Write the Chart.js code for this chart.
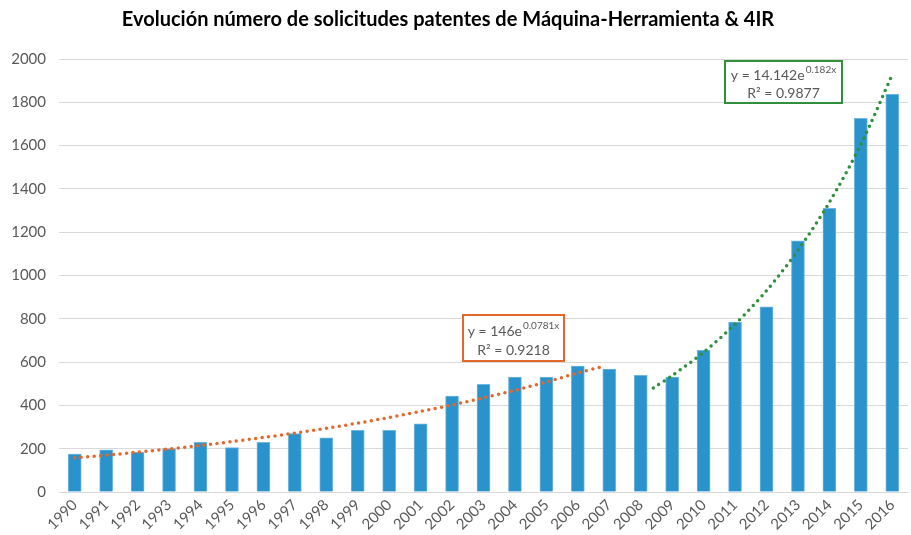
<!DOCTYPE html>
<html>
<head>
<meta charset="utf-8">
<script src="https://cdn.jsdelivr.net/npm/chart.js@4"></script>
<style>
  html, body { margin: 0; padding: 0; background: #fff; }
  #wrap { width: 911px; height: 535px; position: relative; }
</style>
</head>
<body>
<div id="wrap"><canvas id="patChart"></canvas></div>
<script>
const years = [1990, 1991, 1992, 1993, 1994, 1995, 1996, 1997, 1998, 1999, 2000, 2001, 2002, 2003,
  2004, 2005, 2006, 2007, 2008, 2009, 2010, 2011, 2012, 2013, 2014, 2015, 2016];
const solicitudes = [175, 195, 183, 200, 230, 205, 230, 270, 250, 285, 285, 315, 443, 497,
  531, 531, 582, 568, 539, 531, 654, 785, 855, 1160, 1310, 1726, 1837];

// trend lines (x = year position, y = value)
const trendOrangeX = [1990, 1991, 1992, 1993, 1994, 1995, 1996, 1997, 1998, 1999, 2000, 2001, 2002, 2003, 2004, 2005, 2006, 2006.75];
const trendOrangeY = [158, 170, 184, 199, 215, 233, 252, 272, 294, 318, 344, 372, 402, 435, 470, 508, 550, 578];
const trendGreenX = [2008.4, 2009, 2010, 2011, 2012, 2013, 2014, 2015, 2016];
const trendGreenY = [480, 538, 645, 775, 930, 1116, 1338, 1605, 1928];

const yTicks = [0, 200, 400, 600, 800, 1000, 1200, 1400, 1600, 1800, 2000];

const FONT = 'Lato, "Open Sans", sans-serif';
const GREY = '#595959';

function pts(xs, ys) {
    return xs.map((x, i) => ({ x: x, y: ys[i] }));
}

// title + the two equation boxes
const overlay = {
    id: 'overlay',
    afterDraw(chart) {
        const c = chart.ctx;
        c.save();
        c.fillStyle = '#000';
        c.font = 'bold 20px ' + FONT;
        c.textAlign = 'center';
        c.textBaseline = 'alphabetic';
        c.fillText('Evolución número de solicitudes patentes de Máquina-Herramienta & 4IR', 448, 26);

        function eqBox(x, y, w, h, color, base, exp, r2, l1, l2) {
            c.fillStyle = '#fff';
            c.fillRect(x, y, w, h);
            c.strokeStyle = color;
            c.lineWidth = 2;
            c.strokeRect(x, y, w, h);
            c.fillStyle = GREY;
            c.textAlign = 'left';
            c.font = '14px ' + FONT;
            const bw = c.measureText(base).width;
            c.font = '10px ' + FONT;
            const ew = c.measureText(exp).width;
            const sx = x + (w - bw - ew - 1) / 2;
            c.font = '14px ' + FONT;
            c.fillText(base, sx, y + l1);
            c.font = '10px ' + FONT;
            c.fillText(exp, sx + bw + 1, y + l1 - 7);
            c.font = '14px ' + FONT;
            c.textAlign = 'center';
            c.fillText(r2, x + w / 2, y + l2);
        }
        eqBox(463, 315, 101, 46, '#E4672B', 'y = 146e', '0.0781x', 'R² = 0.9218', 21, 40);
        eqBox(725, 61, 117, 42, '#2F8F3A', 'y = 14.142e', '0.182x', 'R² = 0.9877', 19, 37);
        c.restore();
    }
};

new Chart(document.getElementById('patChart'), {
    data: {
        datasets: [
            {
                type: 'bar',
                data: pts(years, solicitudes),
                backgroundColor: '#2B93CC',
                borderColor: '#6FB6E0',
                borderWidth: 1,
                barThickness: 13,
                order: 2
            },
            {
                type: 'line',
                data: pts(trendOrangeX, trendOrangeY),
                borderColor: '#E4672B',
                borderWidth: 3.5,
                borderDash: [0, 6.5],
                borderCapStyle: 'round',
                pointRadius: 0,
                tension: 0.3,
                fill: false,
                order: 0
            },
            {
                type: 'line',
                data: pts(trendGreenX, trendGreenY),
                borderColor: '#2F8F3A',
                borderWidth: 3.5,
                borderDash: [0, 6.5],
                borderCapStyle: 'round',
                pointRadius: 0,
                tension: 0.3,
                fill: false,
                order: 0
            }
        ]
    },
    options: {
        responsive: true,
        maintainAspectRatio: false,
        animation: false,
        layout: { padding: { top: 59, right: 3, left: 0, bottom: 0 } },
        plugins: {
            legend: { display: false },
            tooltip: { enabled: false },
            title: { display: false }
        },
        scales: {
            x: {
                type: 'linear',
                min: 1989.5,
                max: 2016.5,
                offset: false,
                afterBuildTicks(s) { s.ticks = years.map(v => ({ value: v })); },
                grid: { display: false, drawTicks: false },
                border: { color: '#D9D9D9', width: 1 },
                ticks: {
                    color: GREY,
                    font: { family: FONT, size: 15 },
                    autoSkip: false,
                    minRotation: 45,
                    maxRotation: 45,
                    padding: 4,
                    callback: v => String(v)
                },
                afterFit(s) {
                    s.height = 43;
                    s.paddingLeft = 0;
                    s.paddingRight = 0;
                }
            },
            y: {
                min: 0,
                max: 2000,
                afterBuildTicks(s) { s.ticks = yTicks.map(v => ({ value: v })); },
                grid: { color: '#D9D9D9', drawTicks: false },
                border: { display: false },
                ticks: {
                    color: GREY,
                    font: { family: FONT, size: 15 },
                    padding: 13,
                    callback: v => String(v)
                },
                afterFit(s) { s.width = 59; }
            }
        }
    },
    plugins: [overlay]
});
</script>
</body>
</html>
